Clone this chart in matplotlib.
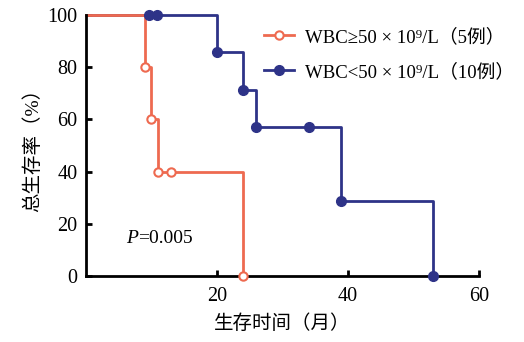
import numpy as np
from matplotlib import pyplot as plt

plt.rcParams['font.family'] = ['Liberation Serif', 'Noto Sans CJK SC']

RED = '#EE6A50'
BLUE = '#2E3388'

# Kaplan-Meier steps (months, %)
red_t = [0, 9, 10, 11, 24]
red_s = [100, 80, 60, 40, 0]
red_mark_t = [9, 10, 11, 13, 24]
red_mark_s = [80, 60, 40, 40, 0]

blue_t = [0, 20, 24, 26, 39, 53]
blue_s = [100, 85.7, 71.4, 57.1, 28.6, 0]
blue_mark_t = [9.6, 10.8, 20, 24, 26, 34, 39, 53]
blue_mark_s = [100, 100, 85.7, 71.4, 57.1, 57.1, 28.6, 0]

legend_labels = ['WBC≥50 × 10⁹/L（5例）', 'WBC<50 × 10⁹/L（10例）']
x_ticks = [20, 40, 60]
y_ticks = [0, 20, 40, 60, 80, 100]


def main():
    fig = plt.figure(figsize=(5.24, 3.42), dpi=100)
    ax = fig.add_axes([0.164, 0.193, 0.750, 0.763])

    ax.plot(blue_t, blue_s, drawstyle='steps-post', color=BLUE, lw=2, clip_on=False)
    ax.plot(blue_mark_t, blue_mark_s, 'o', color=BLUE, ms=7, clip_on=False, zorder=3)
    ax.plot(red_t, red_s, drawstyle='steps-post', color=RED, lw=2, clip_on=False)
    ax.plot(red_mark_t, red_mark_s, 'o', mfc='white', mec=RED, mew=1.5, ms=6,
            clip_on=False, zorder=4)

    # legend handles
    h1, = ax.plot([], [], '-o', color=RED, mfc='white', mec=RED, mew=1.5, ms=6, lw=2)
    h2, = ax.plot([], [], '-o', color=BLUE, ms=7, lw=2)
    ax.legend([h1, h2], legend_labels,
              loc='upper left', bbox_to_anchor=(0.42, 1.0), frameon=False,
              prop={'size': 13.5}, handlelength=1.6, handletextpad=0.6,
              labelspacing=0.9, borderaxespad=0.3)

    ax.text(6.2, 12.5, 'P', fontsize=14, style='italic')
    ax.text(8.0, 12.5, '=0.005', fontsize=14)

    ax.set_xlim(0, 60)
    ax.set_ylim(0, 100)
    ax.set_xticks(x_ticks)
    ax.set_yticks(y_ticks)
    ax.tick_params(direction='in', length=4, width=2, labelsize=14.5, pad=8)
    ax.tick_params(axis='y', pad=6)
    for s in ['top', 'right']:
        ax.spines[s].set_visible(False)
    for s in ['left', 'bottom']:
        ax.spines[s].set_linewidth(2)

    ax.set_xlabel('生存时间（月）', fontsize=14, labelpad=6)
    ax.set_ylabel('总生存率（%）', fontsize=14, labelpad=4)

    fig.savefig('out.png', dpi=100)
    plt.close(fig)


if __name__ == "__main__":
    main()
